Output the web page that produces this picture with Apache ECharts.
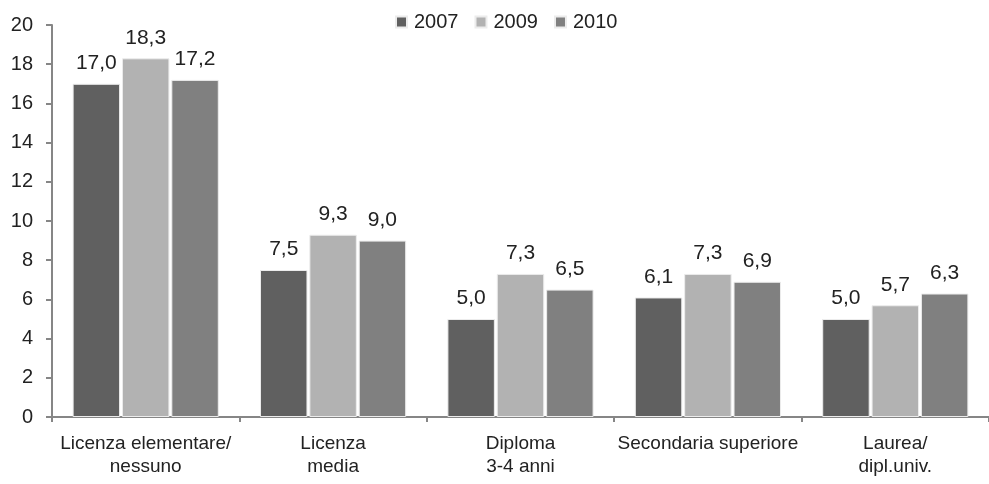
<!DOCTYPE html>
<html>
<head>
<meta charset="utf-8">
<script src="https://cdn.jsdelivr.net/npm/echarts@6/dist/echarts.min.js"></script>
<style>
  html, body { margin: 0; padding: 0; background: #fff; }
  #chart { width: 989px; height: 484px; }
</style>
</head>
<body>
<div id="chart"></div>
<script>
// categorie (titolo di studio)
var categories = ['Licenza elementare/\nnessuno', 'Licenza\nmedia', 'Diploma\n3-4 anni', 'Secondaria superiore', 'Laurea/\ndipl.univ.'];
var years = ['2007', '2009', '2010'];
var v2007 = [17.0, 7.5, 5.0, 6.1, 5.0];
var v2009 = [18.3, 9.3, 7.3, 7.3, 5.7];
var v2010 = [17.2, 9.0, 6.5, 6.9, 6.3];
var yTicks = [0, 2, 4, 6, 8, 10, 12, 14, 16, 18, 20];

var colors = ['#606060', '#b2b2b2', '#808080'];
var font = 'Liberation Sans, Arial, sans-serif';

var chart = echarts.init(document.getElementById('chart'));

var mkSerie = function(name, data, i){
  return {
    name: name,
    type: 'bar',
    data: data,
    barGap: '4%',
    barCategoryGap: '22%',
    itemStyle: { color: colors[i], borderColor: '#ececec', borderWidth: 1 },
    label: {
      show: true,
      position: 'top',
      distance: 10,
      color: '#222',
      fontFamily: font,
      fontSize: 21,
      formatter: function(p){ return p.value.toFixed(1).replace('.', ','); }
    }
  };
};

chart.setOption({
  animation: false,
  color: colors,
  legend: {
    data: years,
    top: 7,
    left: 390,
    itemWidth: 11,
    itemHeight: 11,
    itemGap: 16,
    icon: 'rect',
    textStyle: { fontFamily: font, fontSize: 20, color: '#222', padding: [0, 0, 0, 2] }
  },
  grid: { left: 52, top: 25, width: 945, bottom: 67, containLabel: false },
  xAxis: {
    type: 'category',
    data: categories,
    axisLine: { lineStyle: { color: '#868686', width: 2 } },
    axisTick: { show: true, length: 5, lineStyle: { color: '#868686', width: 2 } },
    axisLabel: { interval: 0, margin: 15, color: '#222', fontFamily: font, fontSize: 19, lineHeight: 23 }
  },
  yAxis: {
    type: 'value',
    min: yTicks[0],
    max: yTicks[yTicks.length - 1],
    interval: 2,
    axisLine: { show: true, lineStyle: { color: '#868686', width: 2 } },
    axisTick: { show: true, length: 6, lineStyle: { color: '#868686', width: 2 } },
    splitLine: { show: false },
    axisLabel: { margin: 19, color: '#222', fontFamily: font, fontSize: 20 }
  },
  series: [
    mkSerie(years[0], v2007, 0),
    mkSerie(years[1], v2009, 1),
    mkSerie(years[2], v2010, 2)
  ]
});
</script>
</body>
</html>
